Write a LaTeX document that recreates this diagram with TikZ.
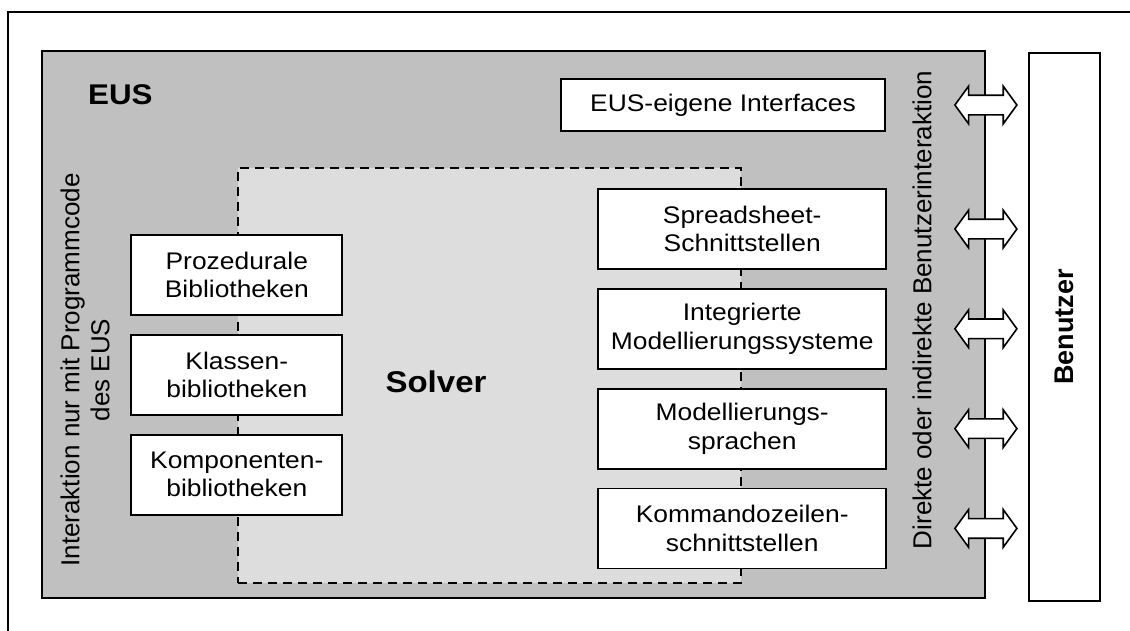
\documentclass[tikz,border=0pt]{standalone}
\usepackage{fontspec}
\setmainfont{Liberation Sans}[FakeStretch=1.1]
\newfontfamily\upsans{Liberation Sans}
\usetikzlibrary{positioning,calc,shapes.arrows}
\definecolor{eusgray}{HTML}{C0C0C0}
\definecolor{solvgray}{HTML}{DDDDDD}
\newcommand{\boxfont}{\fontsize{24}{28.5}\selectfont}
\tikzset{
  frame/.style  = {draw=black, line width=1.8pt},
  part/.style   = {rectangle, draw=black, fill=white, line width=1.8pt, inner sep=0pt,
                   align=center, font=\boxfont},
  lib/.style    = {part, minimum width=211pt, minimum height=80pt},
  iface/.style  = {part, minimum width=288pt, minimum height=80pt},
  link/.style   = {double arrow, draw=black, fill=white, line width=1.6pt, inner xsep=0pt,
                   inner ysep=9pt, minimum height=62pt, minimum width=36pt,
                   double arrow head extend=9pt, double arrow tip angle=108},
  side/.style   = {rotate=90, align=center, inner sep=0pt},
}

\begin{document}
\begin{tikzpicture}[x=1pt, y=-1pt]
  \useasboundingbox (0,0) rectangle (1130,630);
  \clip (0,0) rectangle (1130,630);
  \draw[frame] (8,640) -- (8,12) -- (1140,12);

  \node[frame, fill=eusgray, rectangle, minimum width=943pt, minimum height=547pt, inner sep=0pt]
    (eus) at (513.5,324.5) {};
  \node[font=\bfseries\fontsize{28.5}{28.5}\selectfont, anchor=base west, inner sep=0pt]
    (eustitle) at (88,104) {EUS};
  \node[rectangle, draw=black, fill=solvgray, dash pattern=on 9pt off 6pt, line width=2.4pt,
        minimum width=503pt, minimum height=415pt, inner sep=0pt] (solver) at (489.5,375.5) {};
  \node[font=\bfseries\fontsize{30}{30}\selectfont] (solvertitle) at (436,382) {Solver};

  % libraries sit on the left edge of the solver
  \node[lib] (proz) at (solver.west |- 0,275) {Prozedurale\\Bibliotheken};
  \node[lib, below=18pt of proz] (klass) {Klassen-\\bibliotheken};
  \node[lib, below=18pt of klass] (komp) {Komponenten-\\bibliotheken};

  % interfaces sit on the right edge
  \node[part, minimum width=324pt, minimum height=52pt] (own) at (723,105) {EUS-eigene Interfaces};
  \node[iface] (sheet) at (solver.east |- 0,229) {Spreadsheet-\\Schnittstellen};
  \node[iface, below=18pt of sheet] (integ) {Integrierte\\Modellierungssysteme};
  \node[iface, below=18pt of integ] (lang) {Modellierungs-\\sprachen};
  \node[iface, below=18pt of lang] (cmd) {Kommandozeilen-\\schnittstellen};

  \node[side, font=\upsans\fontsize{26}{30}\selectfont] (codeside) at (85,370)
    {Interaktion nur mit Programmcode\\des EUS};
  \node[side, font=\upsans\fontsize{26}{30}\selectfont] (userside) at (922,310)
    {Direkte oder indirekte Benutzerinteraktion};

  \node[frame, rectangle, rotate=90, minimum width=548pt, minimum height=71pt, inner sep=0pt,
        font=\upsans\bfseries\fontsize{27}{27}\selectfont] (user) at (1064.5,327) {Benutzer};

  \foreach \n/\b in {1/own, 2/sheet, 3/integ, 4/lang, 5/cmd}
    \node[link] (ar\n) at (eus.east |- \b.east) {};
\end{tikzpicture}
\end{document}
